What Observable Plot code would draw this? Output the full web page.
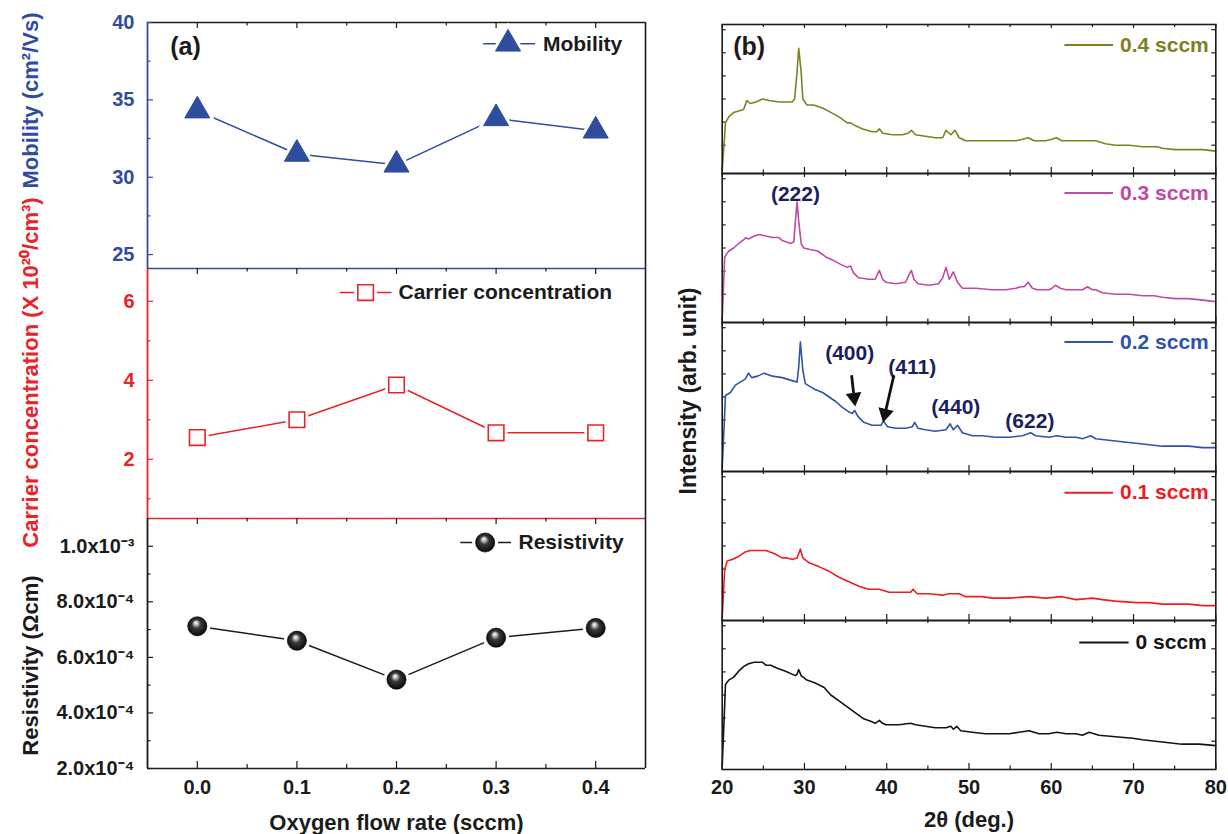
<!DOCTYPE html>
<html><head><meta charset="utf-8">
<script src="https://cdn.jsdelivr.net/npm/d3@7"></script>
<script src="https://cdn.jsdelivr.net/npm/@observablehq/plot@0.6"></script>
<style>
body{margin:0;background:#fff;}
#chart{position:relative;width:1228px;height:834px;overflow:hidden;background:#fff;}
#chart svg{position:absolute;overflow:visible;}
</style></head><body><div id="chart"></div>
<script>
// ---------------- data: panel (a) ----------------
const flowRate = [0.0, 0.1, 0.2, 0.3, 0.4];
const mobility = [34.3, 31.5, 30.8, 33.8, 33.0];
const carrierConc = [2.55, 3.0, 3.88, 2.67, 2.67];
const resistivity = [7.12e-4, 6.6e-4, 5.2e-4, 6.71e-4, 7.06e-4];
const flowTicks = [0.0, 0.1, 0.2, 0.3, 0.4];
const flowMinor = [0.05, 0.15, 0.25, 0.35];
const mobilityTicks = [25, 30, 35, 40];
const mobilityMinor = [27.5, 32.5, 37.5];
const carrierTicks = [2, 4, 6];
const carrierMinor = [1, 3, 5];
const resistivityTicks = [2e-4, 4e-4, 6e-4, 8e-4, 1e-3];
const resistivityMinor = [3e-4, 5e-4, 7e-4, 9e-4];

// ---------------- data: panel (b) XRD, [2theta, intensity (arb.)] ----------------
const xrd04 = [[20.0,2],[20.4,34],[20.8,38],[21.4,41],[22.0,42],[22.6,43],[23.0,49],[23.4,47],[24.1,48],[24.9,50],[25.7,49],[26.9,48],[28.5,48],[28.8,50],[29.1,68],[29.3,84],[29.6,68],[29.8,50],[30.3,46],[31.1,46],[32.2,44],[33.2,41],[34.2,38],[35.2,34],[35.6,34],[36.2,32],[37.0,30],[38.2,28],[38.8,28],[39.1,30],[39.5,27],[40.7,26],[41.9,26],[42.6,27],[43.0,29],[43.5,26],[44.7,25],[45.9,24],[46.8,24],[47.2,29],[47.8,26],[48.3,29],[48.8,24],[49.6,22],[51.2,22],[52.4,22],[54.0,22],[55.7,22],[56.5,23],[57.2,24],[57.9,22],[59.3,22],[60.1,23],[60.6,24],[61.3,22],[63.0,22],[64.2,22],[64.8,22],[65.4,22],[66.6,20],[67.8,19],[69.5,19],[71.1,18],[72.3,18],[72.9,18],[73.5,17],[75.1,16],[77.1,16],[78.4,16],[80.0,15]];
const xrd03 = [[20.0,2],[20.3,44],[20.8,48],[21.4,50],[22.0,53],[22.7,56],[22.9,57],[23.2,56],[23.9,58],[24.5,59],[25.3,58],[26.1,57],[26.9,57],[27.3,55],[28.3,53],[28.7,54],[28.9,68],[29.1,81],[29.3,68],[29.6,53],[29.9,50],[30.7,49],[31.6,48],[32.6,44],[33.4,42],[34.4,39],[35.2,37],[35.6,38],[36.0,33],[36.6,30],[37.8,29],[38.6,29],[39.1,35],[39.5,29],[39.9,27],[41.1,26],[42.3,27],[42.7,32],[43.0,35],[43.3,29],[43.8,26],[45.1,25],[46.3,26],[46.8,30],[47.2,37],[47.6,29],[48.1,34],[48.6,27],[49.2,23],[50.8,23],[52.8,22],[54.5,22],[55.7,23],[56.3,24],[56.7,24],[57.2,27],[57.7,23],[58.3,22],[59.7,22],[60.1,23],[60.5,25],[61.1,23],[61.8,22],[62.6,22],[63.8,22],[64.4,24],[65.0,22],[65.4,22],[66.2,20],[67.8,19],[69.5,19],[71.1,18],[71.9,18],[72.5,18],[73.5,17],[75.1,16],[76.7,16],[78.4,15],[80.0,14]];
const xrd02 = [[20.0,2],[20.4,51],[21.0,53],[21.6,58],[22.2,60],[22.8,62],[23.2,66],[23.6,63],[24.3,64],[25.1,66],[26.1,64],[27.3,63],[28.5,61],[29.1,60],[29.3,70],[29.5,87],[29.8,68],[30.1,59],[30.7,57],[31.3,55],[32.2,53],[33.0,50],[33.8,47],[34.6,43],[35.4,40],[35.8,39],[36.1,41],[36.5,37],[37.2,33],[38.2,31],[39.3,31],[39.6,34],[40.1,30],[41.1,29],[42.3,29],[43.1,30],[43.4,33],[43.8,29],[44.7,28],[45.9,27],[47.2,28],[47.7,32],[48.1,28],[48.6,31],[49.2,26],[50.4,24],[51.6,24],[53.2,23],[54.9,23],[56.5,24],[57.5,26],[58.1,24],[59.7,23],[60.7,24],[61.8,23],[63.0,23],[63.8,22],[64.8,24],[65.4,22],[67.0,21],[68.6,20],[70.3,19],[71.9,18],[73.5,17],[75.1,17],[76.7,17],[78.4,16],[80.0,16]];
const xrd01 = [[20.0,2],[20.3,34],[20.6,40],[21.2,41],[22.0,43],[22.8,46],[23.4,47],[24.3,47],[25.3,47],[26.3,45],[27.3,42],[27.9,42],[28.5,41],[29.1,42],[29.5,48],[29.8,42],[30.5,39],[31.8,36],[33.0,33],[34.2,29],[35.4,26],[36.6,23],[37.8,21],[39.1,21],[40.3,19],[41.9,19],[42.9,19],[43.2,21],[43.7,18],[45.1,18],[46.8,17],[47.6,18],[48.2,18],[48.8,18],[49.6,16],[51.2,16],[51.6,16],[52.8,15],[54.9,15],[57.3,16],[59.3,15],[61.3,16],[63.0,14],[65.0,15],[66.2,14],[67.8,13],[70.3,12],[71.9,12],[73.5,11],[75.1,11],[76.7,11],[78.4,10],[80.0,10]];
const xrd00 = [[20.0,2],[20.4,57],[20.8,60],[21.4,62],[22.0,66],[22.6,69],[23.2,71],[23.9,72],[24.5,72],[24.9,72],[25.3,70],[25.9,70],[26.7,68],[27.7,66],[28.9,63],[29.1,64],[29.3,67],[29.6,63],[30.3,60],[31.3,58],[32.4,55],[33.2,50],[34.2,46],[35.2,42],[36.2,38],[37.2,34],[38.2,32],[38.6,31],[39.1,33],[39.5,31],[39.9,30],[40.3,30],[41.5,30],[42.9,31],[43.5,30],[44.7,29],[45.9,28],[47.2,28],[47.8,29],[48.1,27],[48.5,29],[49.0,26],[50.4,25],[52.0,24],[53.6,24],[54.9,24],[56.1,25],[57.3,26],[58.5,24],[59.7,24],[60.7,25],[61.8,24],[63.0,24],[63.8,23],[64.6,25],[65.8,23],[67.8,22],[69.9,21],[71.1,20],[72.7,19],[74.3,18],[75.9,17],[78.0,17],[80.0,16]];
const sampleGroups = ["0.4", "0.3", "0.2", "0.1", "0"];
const sampleLabels = ["0.4 sccm", "0.3 sccm", "0.2 sccm", "0.1 sccm", "0 sccm"];
const thetaTicks = [20, 30, 40, 50, 60, 70, 80];
const thetaMinor = [25, 35, 45, 55, 65, 75];
const intensityTicks = [19, 34.5, 50, 65.5, 81, 96.5];
const peakLabels = ["(222)", "(400)", "(411)", "(440)", "(622)"];
const peakGroups = ["0.3", "0.2", "0.2", "0.2", "0.2"];
const peakX = [28.9, 35.5, 43.1, 48.4, 57.4];
const peakY = [85.8, 79.1, 70.1, 43.0, 33.9];

// ---------------- styles ----------------
const FONT = '"Liberation Sans", Arial, Helvetica, sans-serif';
const BLUE = "#2f4d9f", RED = "#e8232a", AX = "#1b1b1b";
const traceColors = ["#80801f", "#c04aa2", "#2f53ad", "#ee1d24", "#141414"];
const flowDomain = [-0.05, 0.45];
const chart = document.getElementById("chart");

const SUP = {"-":"⁻","0":"⁰","1":"¹","2":"²","3":"³","4":"⁴","5":"⁵","6":"⁶","7":"⁷","8":"⁸","9":"⁹"};
const sup = s => String(s).split("").map(c => SUP[c] || c).join("");
const sciFmt = d => { const e = Math.floor(Math.log10(d) + 1e-9); return (d / 10 ** e).toFixed(1) + "x10" + sup(e); };

function place(svg, left, top) {
  svg.style.position = "absolute"; svg.style.left = left + "px"; svg.style.top = top + "px";
  chart.appendChild(svg);
  return svg;
}

const triMarks = data => [
  Plot.dot(data, {x: "x", y: "y", symbol: "triangle", r: 9.8, fill: "white", stroke: "white", strokeWidth: 6}),
  Plot.dot(data, {x: "x", y: "y", symbol: "triangle", r: 9.3, fill: BLUE, stroke: BLUE, strokeWidth: 1})
];
const sqMarks = data => [
  Plot.dot(data, {x: "x", y: "y", symbol: "square", r: 9.4, fill: "white", stroke: "white", strokeWidth: 6}),
  Plot.dot(data, {x: "x", y: "y", symbol: "square", r: 8.8, fill: "white", stroke: RED, strokeWidth: 1.6})
];
const sphMarks = data => [
  Plot.dot(data, {x: "x", y: "y", r: 10, fill: "white", stroke: "white", strokeWidth: 6}),
  Plot.dot(data, {x: "x", y: "y", r: 9.6, fill: "url(#sph)", stroke: "#000", strokeWidth: 0.6})
];
const T = (extra) => Object.assign({fontWeight: "bold", fontFamily: FONT, textAnchor: "middle", lineAnchor: "middle"}, extra);

function leftPanel(c) {
  const rows = flowRate.map((x, i) => ({x, y: c.values[i]}));
  const yu = (c.yDomain[1] - c.yDomain[0]) / c.inner;
  const xu = (flowDomain[1] - flowDomain[0]) / 498;
  const lg = c.legend;
  const marks = [
    Plot.ruleX([flowDomain[1]], {stroke: AX, strokeWidth: 1.6}),
    c.drawTop ? Plot.ruleY([c.yDomain[1]], {stroke: AX, strokeWidth: 1.6}) : null,
    Plot.ruleX(flowTicks, {x: d => d, y1: c.yDomain[1], y2: c.yDomain[1] - 6 * yu, stroke: AX, strokeWidth: 1.2}),
    Plot.ruleX(flowMinor, {x: d => d, y1: c.yDomain[1], y2: c.yDomain[1] - 3.5 * yu, stroke: AX, strokeWidth: 1.2}),
    Plot.ruleY(c.yTicks, {y: d => d, x1: flowDomain[0], x2: flowDomain[0] + 6 * xu, stroke: c.leftColor, strokeWidth: 1.2}),
    Plot.ruleY(c.yMinor, {y: d => d, x1: flowDomain[0], x2: flowDomain[0] + 3.5 * xu, stroke: c.leftColor, strokeWidth: 1.2}),
    Plot.axisY({ticks: c.yTicks, tickSize: 0, tickPadding: 13, tickFormat: c.yFormat, label: null, color: c.tickColor, fontSize: 20, fontWeight: "bold", fontFamily: FONT}),
    Plot.line(rows, {x: "x", y: "y", stroke: c.color, strokeWidth: 1.5}),
    ...c.symbols(rows),
    Plot.link([lg], {x1: "x1", x2: "x2", y1: "y", y2: "y", stroke: c.color, strokeWidth: 1.5}),
    ...c.symbols([{x: lg.xs, y: lg.y}]),
    Plot.text([lg], {x: "xt", y: "y", text: "label", textAnchor: "start", fill: AX, fontSize: 21, fontWeight: "bold", fontFamily: FONT}),
    Plot.ruleX([flowDomain[0]], {stroke: c.leftColor, strokeWidth: 1.8}),
    Plot.ruleY([c.yDomain[0]], {stroke: c.bottomColor, strokeWidth: 1.6}),
    Plot.text([c.title], T({frameAnchor: "left", dx: -117, dy: c.titleDy, rotate: -90, fill: c.titleColor, fontSize: 22})),
    ...(c.extra || [])
  ].filter(Boolean);
  return Plot.plot({
    width: 650, height: 2 + c.inner + c.mb,
    marginLeft: 147, marginRight: 5, marginTop: 2, marginBottom: c.mb,
    x: {domain: flowDomain, axis: c.xAxis ? undefined : null, label: null},
    y: {domain: c.yDomain, label: null},
    style: {background: "transparent", overflow: "visible", fontFamily: FONT},
    marks
  });
}

// Mobility
place(leftPanel({
  inner: 246, mb: 2, yDomain: [24.1, 40], values: mobility, color: BLUE, leftColor: BLUE, bottomColor: BLUE,
  drawTop: true, yTicks: mobilityTicks, yMinor: mobilityMinor, yFormat: d => String(d), tickColor: BLUE,
  symbols: triMarks, title: "Mobility (cm²/Vs)", titleDy: -45, titleColor: BLUE,
  legend: {x1: 0.287, x2: 0.339, xs: 0.312, xt: 0.347, y: 38.62, label: "Mobility"},
  extra: [Plot.text(["(a)"], T({frameAnchor: "top-left", dx: 38, dy: 24, fill: AX, fontSize: 25}))]
}), 0, 20);

// Carrier concentration
place(leftPanel({
  inner: 250, mb: 2, yDomain: [0.5, 6.83], values: carrierConc, color: RED, leftColor: RED, bottomColor: RED,
  drawTop: false, yTicks: carrierTicks, yMinor: carrierMinor, yFormat: d => String(d), tickColor: RED,
  symbols: sqMarks, title: "Carrier concentration (X 10²⁰/cm³)", titleDy: -21, titleColor: RED,
  legend: {x1: 0.143, x2: 0.195, xs: 0.169, xt: 0.202, y: 6.22, label: "Carrier concentration"}
}), 0, 266);

// Resistivity
const resSvg = place(leftPanel({
  inner: 250, mb: 66, yDomain: [2e-4, 1.1e-3], values: resistivity, color: AX, leftColor: AX, bottomColor: AX,
  drawTop: false, yTicks: resistivityTicks, yMinor: resistivityMinor, yFormat: sciFmt, tickColor: AX,
  symbols: sphMarks, title: "Resistivity (Ωcm)", titleDy: 22, titleColor: AX, xAxis: true,
  legend: {x1: 0.264, x2: 0.315, xs: 0.289, xt: 0.3225, y: 1.0136e-3, label: "Resistivity"},
  extra: [
    Plot.ruleX(flowTicks, {x: d => d, y1: 2e-4, y2: 2e-4 + 7 * 9e-4 / 250, stroke: AX, strokeWidth: 1.2}),
    Plot.ruleX(flowMinor, {x: d => d, y1: 2e-4, y2: 2e-4 + 4 * 9e-4 / 250, stroke: AX, strokeWidth: 1.2}),
    Plot.axisX({ticks: flowTicks, tickSize: 0, tickPadding: 11, tickFormat: d => d.toFixed(1), label: null, color: AX, fontSize: 20, fontWeight: "bold", fontFamily: FONT}),
    Plot.text(["Oxygen flow rate (sccm)"], T({frameAnchor: "bottom", dy: 54, fill: AX, fontSize: 22}))
  ]
}), 0, 516);

const defs = d3.select(resSvg).insert("defs", ":first-child");
const grad = defs.append("radialGradient").attr("id", "sph").attr("cx", "0.5").attr("cy", "0.5").attr("r", "0.55").attr("fx", "0.42").attr("fy", "0.3");
[[0, "#ffffff"], [0.16, "#c8c8c8"], [0.42, "#3a3a3a"], [1, "#030303"]].forEach(([o, c]) => grad.append("stop").attr("offset", o).attr("stop-color", c));

// ---------------- panel (b) ----------------
const xrdTraces = [xrd04, xrd03, xrd02, xrd01, xrd00];
const xrdRows = xrdTraces.flatMap((tr, k) => tr.map(([t, i]) => ({g: sampleGroups[k], t, i})));
const legendRows = sampleGroups.map((g, k) => ({
  g, label: sampleLabels[k],
  x1: g === "0" ? 63.4 : 61.6, x2: g === "0" ? 69.4 : 67.5, tx: g === "0" ? 78.9 : 79.15,
  y: [86.2, 86.9, 86.9, 85.8, 85.2][k]
}));
const peakRows = peakLabels.map((t, k) => ({g: peakGroups[k], t, x: peakX[k], y: peakY[k]}));
// arrows pointing at the (400) and (411) reflections: shaft start, head centre, head direction
const arrowRows = [
  {g: "0.2", x1: 35.73, y1: 64.6, x2: 36.03, y2: 49.7, rot: 173},
  {g: "0.2", x1: 40.87, y1: 64.6, x2: 39.80, y2: 38.9, rot: 193}
];
const xuB = 60 / 493.6, yuB = 100 / 149.6;

const right = Plot.plot({
  width: 562, height: 834,
  marginLeft: 61.7, marginRight: 6.7, marginTop: 22.5, marginBottom: 63.5,
  x: {domain: [20, 80], label: null},
  y: {domain: [0, 100], axis: null},
  fy: {domain: sampleGroups, padding: 0, axis: null},
  color: {domain: sampleGroups, range: traceColors},
  style: {background: "transparent", overflow: "visible", fontFamily: FONT},
  marks: [
    Plot.ruleX(thetaTicks, {x: d => d, y1: 0, y2: 6 * yuB, stroke: AX, strokeWidth: 1.2}),
    Plot.ruleX(thetaMinor, {x: d => d, y1: 0, y2: 3.5 * yuB, stroke: AX, strokeWidth: 1.2}),
    Plot.ruleX(thetaTicks, {x: d => d, y1: 100, y2: 100 - 4 * yuB, stroke: AX, strokeWidth: 1.2}),
    Plot.ruleX(thetaMinor, {x: d => d, y1: 100, y2: 100 - 3 * yuB, stroke: AX, strokeWidth: 1.2}),
    Plot.ruleY(intensityTicks, {y: d => d, x1: 20, x2: 20 + 4 * xuB, stroke: AX, strokeWidth: 1.2}),
    Plot.ruleY(intensityTicks, {y: d => d, x1: 80, x2: 80 - 4 * xuB, stroke: AX, strokeWidth: 1.2}),
    Plot.line(xrdRows, {x: "t", y: "i", fy: "g", stroke: "g", strokeWidth: 1.6}),
    Plot.frame({stroke: AX, strokeWidth: 1.6}),
    Plot.link(legendRows, {x1: "x1", x2: "x2", y1: "y", y2: "y", fy: "g", stroke: "g", strokeWidth: 2}),
    Plot.text(legendRows, {x: "tx", y: "y", fy: "g", text: "label", fill: "g", textAnchor: "end", fontSize: 21, fontWeight: "bold", fontFamily: FONT}),
    Plot.text(peakRows, T({x: "x", y: "y", fy: "g", text: "t", fill: "#1c1f5e", fontSize: 21})),
    Plot.link(arrowRows, {x1: "x1", y1: "y1", x2: "x2", y2: "y2", fy: "g", stroke: "#111", strokeWidth: 2.8}),
    Plot.dot(arrowRows, {x: "x2", y: "y2", fy: "g", symbol: "triangle", r: 5.2, rotate: "rot", fill: "#111", stroke: "#111", strokeWidth: 1}),
    Plot.text([{g: "0.4"}], T({fy: "g", frameAnchor: "top-left", dx: 27, dy: 22.5, text: () => "(b)", fill: AX, fontSize: 25})),
    Plot.text([{g: "0.2"}], T({fy: "g", frameAnchor: "left", dx: -33.7, dy: -6, rotate: -90, text: () => "Intensity (arb. unit)", fill: AX, fontSize: 23})),
    Plot.axisX({ticks: thetaTicks, tickSize: 0, tickPadding: 10, label: null, color: AX, fontSize: 20, fontWeight: "bold", fontFamily: FONT}),
    Plot.text([{g: "0"}], T({fy: "g", frameAnchor: "bottom", dy: 50, text: () => "2θ (deg.)", fill: AX, fontSize: 22}))
  ]
});
place(right, 660, 0);
</script></body></html>
